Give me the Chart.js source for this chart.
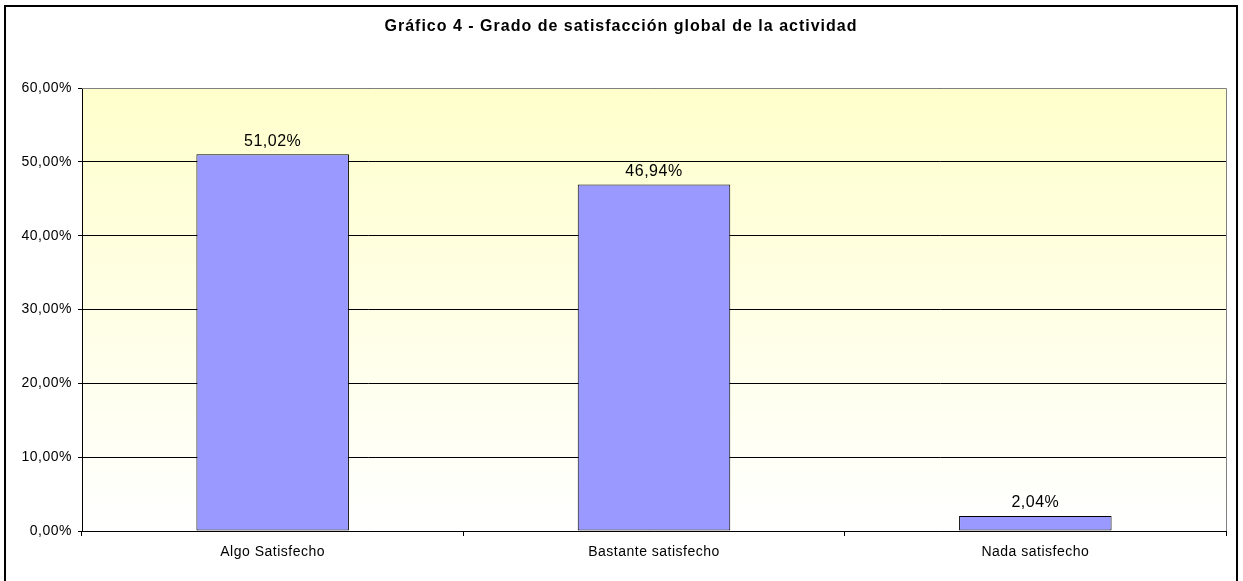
<!DOCTYPE html>
<html>
<head>
<meta charset="utf-8">
<script src="https://cdn.jsdelivr.net/npm/chart.js@4/dist/chart.umd.min.js"></script>
<style>
  html, body { margin: 0; padding: 0; background: #fff; }
  #wrap { width: 1243px; height: 581px; position: relative; }
</style>
</head>
<body>
<div id="wrap"><canvas id="myChart" width="1243" height="581"></canvas></div>
<script>
// data
const categories = ["Algo Satisfecho", "Bastante satisfecho", "Nada satisfecho"];
const values = [51.02, 46.94, 2.04];
const yTicks = [0, 10, 20, 30, 40, 50, 60];
const titleText = "Gráfico 4 - Grado de satisfacción global de la actividad";

const fmt = (v) => v.toFixed(2).replace('.', ',') + '%';
const FONT = '"Liberation Sans", Arial, sans-serif';

// plot background gradient + frame + title + value labels
const excelLook = {
  id: 'excelLook',
  beforeLayout(chart) {
    chart.ctx.letterSpacing = '0.5px';
  },
  beforeDraw(chart) {
    const { ctx, chartArea: a } = chart;
    // excel-ish wide text spacing for axis labels
    ctx.letterSpacing = '0.5px';
    const g = ctx.createLinearGradient(0, a.top, 0, a.bottom);
    g.addColorStop(0, '#FFFFCC');
    g.addColorStop(1, '#FFFFFF');
    ctx.save();
    ctx.fillStyle = g;
    ctx.fillRect(a.left, a.top, a.right - a.left, a.bottom - a.top);
    ctx.restore();
  },
  afterDraw(chart) {
    const { ctx, chartArea: a } = chart;
    ctx.save();
    // gray frame top/right of plot
    ctx.strokeStyle = '#808080';
    ctx.lineWidth = 1;
    ctx.beginPath();
    ctx.moveTo(a.left, a.top + 0.5);
    ctx.lineTo(a.right + 0.5, a.top + 0.5);
    ctx.lineTo(a.right + 0.5, a.bottom);
    ctx.stroke();
    // outer border
    ctx.strokeStyle = '#000';
    ctx.lineWidth = 2;
    ctx.strokeRect(5, 6, 1232, 580);
    // title
    ctx.fillStyle = '#000';
    ctx.letterSpacing = '1px';
    ctx.font = 'bold 16px ' + FONT;
    ctx.textAlign = 'center';
    ctx.textBaseline = 'middle';
    ctx.fillText(titleText, 621, 27);
    // value labels
    ctx.letterSpacing = '0.5px';
    ctx.font = '16px ' + FONT;
    ctx.textBaseline = 'bottom';
    const meta = chart.getDatasetMeta(0);
    meta.data.forEach((bar, i) => {
      ctx.fillText(fmt(values[i]), bar.x, bar.y - 5);
    });
    ctx.restore();
  }
};

const config = {
  type: 'bar',
  data: {
    labels: categories,
    datasets: [{
      data: values,
      backgroundColor: '#9999FF',
      borderColor: '#000000',
      borderWidth: 1,
      borderSkipped: false,
      barPercentage: 0.4,
      categoryPercentage: 1.0,
    }]
  },
  options: {
    responsive: false,
    animation: false,
    layout: { padding: { left: 5, top: 88, right: 17, bottom: 0 } },
    plugins: {
      legend: { display: false },
      title: { display: false },
      tooltip: { enabled: false }
    },
    scales: {
      x: {
        offset: true,
        grid: {
          offset: true,
          drawOnChartArea: false,
          drawTicks: true,
          tickLength: 5,
          color: '#000'
        },
        border: { color: '#000', width: 1 },
        ticks: {
          color: '#000',
          padding: 8,
          font: { family: FONT, size: 14 }
        },
        afterFit: (axis) => { axis.height = 50; }
      },
      y: {
        min: 0,
        max: 60,
        afterBuildTicks: (axis) => { axis.ticks = yTicks.map(v => ({ value: v })); },
        grid: {
          color: '#000',
          tickLength: 4,
          drawTicks: true
        },
        border: { color: '#000', width: 1 },
        ticks: {
          color: '#000',
          padding: 6,
          font: { family: FONT, size: 14 },
          callback: (v) => fmt(v)
        },
        afterFit: (axis) => { axis.width = 77; }
      }
    }
  },
  plugins: [excelLook]
};

const myChart = new Chart(document.getElementById('myChart'), config);
</script>
</body>
</html>
